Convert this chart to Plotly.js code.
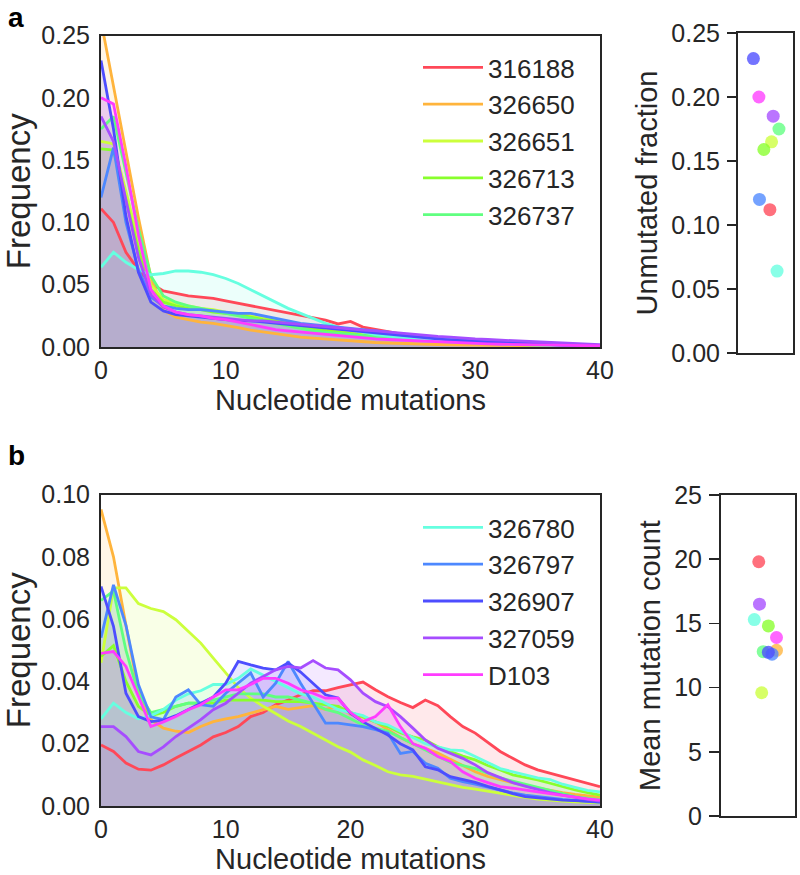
<!DOCTYPE html>
<html>
<head>
<meta charset="utf-8">
<script src="https://cdn.plot.ly/plotly-3.0.1.min.js"></script>
<style>html,body{margin:0;padding:0;background:#fff}#chart{width:800px;height:875px}</style>
</head>
<body>
<div id="chart"></div>
<script>
// ---------- data ----------
const mutations = [0,1,2,3,4,5,6,7,8,9,10,11,12,13,14,15,16,17,18,19,20,21,22,23,24,25,26,27,28,29,30,31,32,33,34,35,36,37,38,39,40];
const sampleNames = ['316188','326650','326651','326713','326737','326780','326797','326907','327059','D103'];
const sampleColors = ['#ff4858','#ffb43c','#ccff3c','#88ff2c','#60ff80','#66ffe0','#4d88ff','#4d4dff','#a64dff','#ff3cff'];

// panel a : frequency per mutation count
const a_316188 = [.111,.100,.076,.062,.051,.045,.043,.041,.040,.039,.037,.035,.033,.031,.029,.027,.025,.023,.0215,.0185,.0205,.016,.014,.012,.0105,.009,.008,.007,.006,.0052,.0045,.0039,.0034,.003,.0026,.0022,.0019,.0016,.0013,.0011,.0009];
const a_326650 = [.262,.210,.157,.104,.056,.0295,.024,.022,.020,.019,.0175,.0155,.0135,.012,.011,.0095,.008,.0072,.0065,.0055,.0045,.004,.0036,.0032,.0028,.0025,.0022,.002,.0018,.0016,.0014,.0012,.0011,.001,.0009,.0008,.0007,.0006,.0005,.0005,.0004];
const a_326651 = [.165,.163,.125,.085,.050,.038,.035,.033,.031,.030,.028,.027,.025,.024,.022,.020,.018,.016,.014,.013,.011,.010,.009,.008,.007,.006,.0055,.005,.0045,.004,.0035,.003,.0027,.0024,.0021,.0018,.0016,.0014,.0012,.001,.0009];
const a_326713 = [.159,.158,.118,.078,.046,.036,.033,.031,.030,.028,.027,.026,.024,.022,.021,.019,.017,.015,.013,.012,.0105,.0095,.0085,.0075,.0068,.006,.0054,.0048,.0043,.0038,.0034,.003,.0027,.0024,.0021,.0018,.0016,.0014,.0012,.001,.0009];
const a_326737 = [.175,.185,.140,.095,.057,.041,.036,.033,.031,.029,.027,.025,.023,.021,.019,.017,.015,.013,.012,.011,.010,.009,.008,.007,.006,.0055,.005,.0045,.004,.0035,.003,.0027,.0024,.0021,.0018,.0016,.0014,.0012,.001,.0009,.0008];
const a_326780 = [.064,.076,.068,.062,.058,.059,.061,.061,.060,.058,.055,.051,.046,.041,.036,.031,.027,.023,.019,.016,.014,.012,.010,.0088,.0076,.0066,.0057,.005,.0044,.0038,.0033,.0029,.0025,.0022,.0019,.0016,.0014,.0012,.001,.0009,.0008];
const a_326797 = [.120,.160,.100,.062,.040,.033,.031,.030,.030,.029,.028,.027,.027,.025,.023,.021,.019,.018,.017,.016,.015,.014,.013,.012,.010,.009,.008,.007,.006,.005,.0045,.004,.0035,.003,.0026,.0022,.0019,.0016,.0014,.0012,.001];
const a_326907 = [.230,.175,.105,.060,.036,.029,.026,.025,.024,.023,.022,.021,.021,.020,.019,.018,.017,.016,.015,.014,.013,.012,.011,.010,.009,.008,.007,.006,.0055,.005,.0045,.004,.0035,.003,.0026,.0022,.0019,.0016,.0014,.0012,.001];
const a_327059 = [.185,.165,.118,.072,.042,.032,.028,.026,.025,.024,.023,.022,.021,.021,.020,.019,.018,.017,.016,.015,.014,.0135,.013,.012,.011,.010,.009,.0085,.008,.007,.0065,.006,.0055,.005,.0045,.004,.0035,.003,.0025,.002,.0018];
const a_D103   = [.200,.195,.145,.090,.046,.033,.028,.026,.025,.023,.022,.020,.018,.016,.014,.013,.012,.011,.010,.009,.008,.007,.0065,.006,.0055,.005,.0045,.004,.0036,.0032,.0028,.0025,.0022,.002,.0018,.0016,.0014,.0012,.0011,.001,.0009];

// panel b : frequency per mutation count
const b_316188 = [.0196,.0175,.0138,.0118,.0115,.0132,.0154,.0175,.0196,.0222,.0236,.0255,.0287,.030,.0325,.034,.0357,.037,.037,.038,.039,.0398,.0373,.0351,.0332,.0316,.034,.0322,.0287,.0255,.0234,.0204,.0175,.0153,.0132,.0116,.0105,.0094,.0084,.0073,.0062];
const b_326650 = [.0952,.080,.058,.037,.0277,.025,.024,.0236,.0255,.0271,.028,.0287,.0298,.031,.032,.031,.0315,.0322,.031,.032,.0295,.0285,.027,.0245,.022,.020,.0185,.017,.015,.013,.011,.0095,.0084,.0075,.0065,.0057,.005,.0043,.0037,.0032,.0028];
const b_326651 = [.046,.070,.070,.065,.0634,.0624,.0598,.056,.0523,.0475,.0427,.038,.0346,.032,.0297,.0273,.0255,.0233,.0212,.019,.0173,.0148,.013,.011,.010,.0095,.0086,.0077,.0068,.006,.0054,.0047,.004,.0033,.0028,.0022,.0018,.0016,.0013,.0011,.001];
const b_326713 = [.048,.0515,.040,.032,.029,.030,.032,.033,.033,.033,.034,.034,.034,.034,.0335,.0335,.0335,.033,.0325,.032,.030,.0287,.027,.0255,.0235,.0222,.0212,.019,.0175,.016,.0148,.013,.0116,.010,.0092,.0084,.0073,.0062,.0052,.0043,.0035];
const b_326737 = [.066,.069,.050,.036,.030,.031,.032,.033,.033,.034,.035,.036,.036,.036,.035,.035,.034,.033,.031,.030,.028,.026,.025,.024,.022,.020,.018,.016,.014,.013,.012,.0105,.009,.008,.007,.006,.005,.004,.003,.0025,.002];
const b_326780 = [.028,.033,.030,.028,.029,.031,.034,.036,.037,.039,.039,.041,.044,.042,.040,.038,.036,.035,.033,.031,.030,.029,.027,.026,.024,.022,.020,.019,.018,.0178,.016,.014,.012,.011,.010,.009,.0085,.007,.006,.005,.0045];
const b_326797 = [.054,.071,.058,.039,.0286,.0277,.035,.0373,.0325,.032,.0362,.0394,.0427,.035,.0394,.0464,.0394,.033,.0266,.0266,.026,.0255,.0245,.0234,.0169,.0175,.0137,.0121,.0089,.0078,.007,.006,.005,.0042,.0035,.003,.0025,.0021,.0018,.0015,.0012];
const b_326907 = [.0705,.0577,.0362,.0287,.0271,.0275,.029,.031,.033,.035,.0394,.0464,.0453,.0443,.0437,.0459,.043,.0394,.0357,.0347,.0298,.027,.025,.0228,.020,.018,.0126,.0116,.0094,.0084,.0076,.0063,.0051,.004,.003,.0026,.0022,.0019,.0017,.0015,.0013];
const b_327059 = [.0255,.0255,.0223,.0175,.0164,.019,.0223,.025,.0277,.0309,.033,.0362,.0394,.0416,.0437,.0448,.0443,.0467,.0443,.0437,.0405,.0362,.0335,.0319,.0287,.025,.0212,.0185,.0169,.0153,.0132,.0107,.0091,.0075,.0064,.0053,.0043,.0035,.0027,.0021,.0016];
const b_D103   = [.049,.0496,.0448,.035,.0255,.027,.0287,.0309,.0325,.035,.0373,.0373,.039,.041,.041,.0394,.0373,.0362,.0346,.0346,.030,.0271,.0287,.0325,.0255,.020,.0185,.0159,.0143,.011,.0089,.0075,.0062,.0057,.005,.0045,.004,.0034,.0028,.0023,.0019];

// side panels
const unmutatedFraction = [0.112,0.262,0.165,0.159,0.175,0.064,0.120,0.230,0.185,0.200];
const unmutatedJitter   = [0.08,0.02,0.11,-0.03,0.245,0.21,-0.11,-0.22,0.14,-0.12];
const meanMutationCount = [19.8,12.9,9.6,14.8,12.8,15.3,12.6,12.75,16.5,13.9];
const meanJitter        = [0.01,0.25,0.05,0.14,0.07,-0.05,0.19,0.14,0.02,0.25];

const panelA = [a_316188,a_326650,a_326651,a_326713,a_326737,a_326780,a_326797,a_326907,a_327059,a_D103];
const panelB = [b_316188,b_326650,b_326651,b_326713,b_326737,b_326780,b_326797,b_326907,b_327059,b_D103];

// ---------- helpers ----------
function rgba(hex, a){
  const r=parseInt(hex.slice(1,3),16), g=parseInt(hex.slice(3,5),16), b=parseInt(hex.slice(5,7),16);
  return 'rgba('+r+','+g+','+b+','+a+')';
}
const W=800, H=875;
const px = v => v/W;
const py = v => 1 - v/H;
const FONT = 'Liberation Sans, Arial, Helvetica, sans-serif';
const INK = '#262626';

const traces = [];
function addPanel(data, xa, ya, legendId, showFrom, showTo){
  // translucent fills first
  sampleNames.forEach((name,i)=>{
    traces.push({
      x: mutations, y: data[i], xaxis:xa, yaxis:ya, type:'scatter', mode:'lines',
      showlegend:false, line:{width:0, color:sampleColors[i]}, fill:'tozeroy',
      fillcolor: rgba(sampleColors[i],0.12), hoverinfo:'skip'
    });
  });
  // lines on top
  sampleNames.forEach((name,i)=>{
    traces.push({
      x: mutations, y: data[i], xaxis:xa, yaxis:ya, type:'scatter', mode:'lines',
      name: name, legend:legendId, showlegend: i>=showFrom && i<showTo,
      line:{color: sampleColors[i], width:2.8}, hoverinfo:'skip'
    });
  });
}
addPanel(panelA, 'x', 'y', 'legend', 0, 5);
addPanel(panelB, 'x3', 'y3', 'legend2', 5, 10);

traces.push({
  x: unmutatedJitter, y: unmutatedFraction, xaxis:'x2', yaxis:'y2', type:'scatter', mode:'markers',
  showlegend:false, text: sampleNames,
  marker:{color: sampleColors, size:13, opacity:0.78, line:{width:0}}
});
traces.push({
  x: meanJitter, y: meanMutationCount, xaxis:'x4', yaxis:'y4', type:'scatter', mode:'markers',
  showlegend:false, text: sampleNames,
  marker:{color: sampleColors, size:13, opacity:0.78, line:{width:0}}
});

const frame = {showline:true, mirror:true, linecolor:INK, linewidth:2, showgrid:false, zeroline:false, automargin:false};
const tickF = {family:FONT, size:25, color:INK};
const titleF = {family:FONT, size:29, color:INK};
const freqF = {family:FONT, size:33, color:INK};
const legF = {family:FONT, size:26, color:INK};

const layout = {
  width:W, height:H, margin:{l:0,r:0,t:0,b:0},
  paper_bgcolor:'#fff', plot_bgcolor:'#fff',
  font:{family:FONT, color:INK},
  xaxis: Object.assign({}, frame, {domain:[px(101),px(600)], anchor:'y', range:[0,40], dtick:10, ticks:'', tickfont:tickF, ticklabelstandoff:0,
          title:{text:'Nucleotide mutations', font:titleF, standoff:2}}),
  yaxis: Object.assign({}, frame, {domain:[py(347),py(35.5)], anchor:'x', range:[0,0.25], dtick:0.05, tickformat:'.2f', ticks:'', tickfont:tickF, ticklabelstandoff:4,
          title:{text:'Frequency', font:freqF, standoff:2}}),
  xaxis2: Object.assign({}, frame, {domain:[px(738),px(793)], anchor:'y2', range:[-0.5,0.5], showticklabels:false, ticks:''}),
  yaxis2: Object.assign({}, frame, {domain:[py(353),py(33)], anchor:'x2', range:[0,0.25], dtick:0.05, tickformat:'.2f', ticks:'outside', ticklen:9, tickwidth:1.5, tickcolor:INK, tickfont:tickF, ticklabelstandoff:2,
          title:{text:'Unmutated fraction', font:titleF, standoff:5}}),
  xaxis3: Object.assign({}, frame, {domain:[px(101),px(600)], anchor:'y3', range:[0,40], dtick:10, ticks:'', tickfont:tickF, ticklabelstandoff:0,
          title:{text:'Nucleotide mutations', font:titleF, standoff:3}}),
  yaxis3: Object.assign({}, frame, {domain:[py(806),py(494.5)], anchor:'x3', range:[0,0.1], dtick:0.02, tickformat:'.2f', ticks:'', tickfont:tickF, ticklabelstandoff:4,
          title:{text:'Frequency', font:freqF, standoff:2}}),
  xaxis4: Object.assign({}, frame, {domain:[px(721),px(795)], anchor:'y4', range:[-0.5,0.5], showticklabels:false, ticks:''}),
  yaxis4: Object.assign({}, frame, {domain:[py(816),py(495)], anchor:'x4', range:[0,25], dtick:5, ticks:'outside', ticklen:10, tickwidth:1.5, tickcolor:INK, tickfont:tickF, ticklabelstandoff:2,
          title:{text:'Mean mutation count', font:titleF, standoff:5}}),
  legend: {x:px(418), xanchor:'left', y:py(44), yanchor:'top', bgcolor:'rgba(0,0,0,0)', borderwidth:0, font:legF, itemwidth:60, tracegroupgap:0},
  legend2: {x:px(418), xanchor:'left', y:py(504), yanchor:'top', bgcolor:'rgba(0,0,0,0)', borderwidth:0, font:legF, itemwidth:60, tracegroupgap:0},
  annotations: [
    {text:'<b>a</b>', xref:'paper', yref:'paper', x:px(6), y:1, xanchor:'left', yanchor:'top', showarrow:false, font:{family:FONT, size:28, color:'#000'}},
    {text:'<b>b</b>', xref:'paper', yref:'paper', x:px(6), y:py(438), xanchor:'left', yanchor:'top', showarrow:false, font:{family:FONT, size:28, color:'#000'}}
  ]
};

Plotly.newPlot('chart', traces, layout, {staticPlot:true, displayModeBar:false});
</script>
</body>
</html>
